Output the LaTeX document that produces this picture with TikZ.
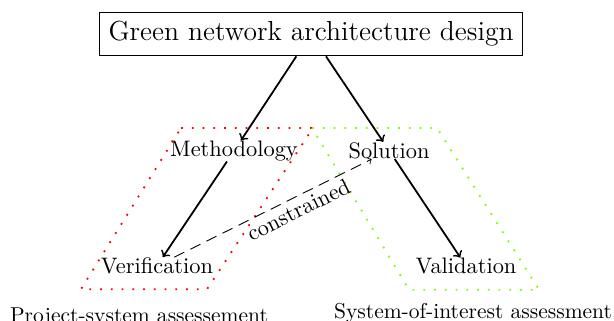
\documentclass[tikz,border=0pt]{standalone}
\begin{document}
\begin{tikzpicture}[stage/.style={inner sep=0pt}, group/.style={thick, loosely dotted}, note/.style={font=\fontsize{9.6}{11}\selectfont}]
        \useasboundingbox (0,0) rectangle (9.634,-5.021);
        \node[draw, thick, inner sep=4pt, font=\fontsize{12.3}{15}\selectfont] (design) at (4.880,-0.533) {Green network architecture design};
        \node[stage] (methodology) at (3.672,-2.369) {Methodology};
        \node[stage] (solution) at (6.104,-2.361) {Solution};
        \node[stage] (verification) at (2.464,-4.170) {Verification};
        \node[stage] (validation) at (7.312,-4.174) {Validation};
            \draw[group, red] (2.840,-2.008) -- (4.911,-2.008) -- (3.248,-4.537) -- (1.271,-4.537) -- cycle ;
            \draw[group, green!50!yellow] (4.896,-2.008) -- (6.857,-2.008) -- (8.458,-4.545) -- (6.418,-4.545) -- cycle ;
            \draw[->, thick] (design) -- (methodology) ;
            \draw[->, thick] (design) -- (solution) ;
            \draw[->, thick] (methodology) -- (verification) ;
            \draw[->, thick] (solution) -- (validation) ;
            \draw[->, dash pattern=on 5pt off 3pt] (verification) --node[sloped, below, pos=0.6, inner sep=2pt]{constrained} (solution) ;
        \node[note] (project) at (2.181,-4.974) {Project-system assessement};
        \node[note] (interest) at (7.422,-4.911) {System-of-interest assessment};
\end{tikzpicture}
\end{document}
